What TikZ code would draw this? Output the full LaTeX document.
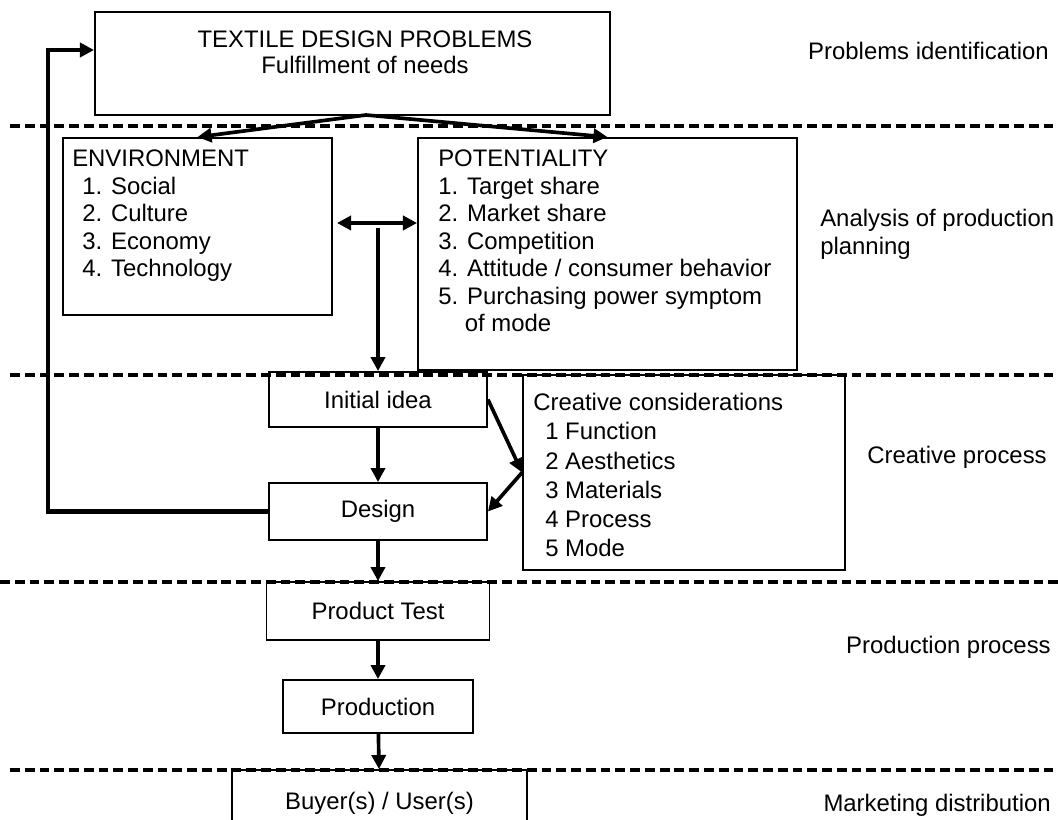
\documentclass[tikz,border=0pt]{standalone}
\usepackage{fontspec}
\setmainfont{Liberation Sans}
\usetikzlibrary{arrows.meta}
\begin{document}
\begin{tikzpicture}[x=0.025cm,y=-0.025cm]
        \tikzstyle{every node}=[font=\fontsize{17}{19.5}\selectfont,inner sep=0pt,align=center];
        \tikzstyle{box}=[draw,line width=1.3pt,shape=rectangle];
        \tikzstyle{list}=[anchor=north west,align=left];
        \tikzstyle{stage}=[anchor=base east];
        \tikzstyle{arr}=[line width=2.6pt,-{Triangle[length=10pt,width=10pt]}];
        \tikzstyle{darr}=[line width=2.6pt,{Triangle[length=10pt,width=10pt]}-{Triangle[length=10pt,width=10pt]}];
        \tikzstyle{level}=[line width=2.3pt,dash pattern=on 7pt off 3.5pt];
        \clip (0,0) rectangle (1058,820);
        % stage separators
        \draw[level] (10,126) -- (1058,126)
        (10,375) -- (1058,375)
        (0,582) -- (1058,582)
        (10,770) -- (1058,770);
        % boxes
        \node (prob) [box,minimum width=12.875cm,minimum height=2.575cm] at (352.5,63.5) {};
        \node (probtext) [font=\fontsize{17}{18.5}\selectfont] at (365,52) {TEXTILE DESIGN PROBLEMS\\Fulfillment of needs};
        \node (env) [box,minimum width=6.725cm,minimum height=4.425cm] at (197.5,226.5) {};
        \node (envtext) [list] at (72,150) {ENVIRONMENT\\\hspace*{0.25cm}1. Social\\\hspace*{0.25cm}2. Culture\\\hspace*{0.25cm}3. Economy\\\hspace*{0.25cm}4. Technology};
        \node (pot) [box,minimum width=9.475cm,minimum height=5.8cm] at (607.5,254) {};
        \node (pottext) [list] at (438,150) {POTENTIALITY\\1. Target share\\2. Market share\\3. Competition\\4. Attitude / consumer behavior\\5. Purchasing power symptom\\\phantom{5.}\ of mode};
        \node (init) [box,minimum width=5.45cm,minimum height=1.375cm] at (378,399.5) {Initial idea};
        \node (design) [box,minimum width=5.45cm,minimum height=1.425cm] at (378,511.5) {Design};
        \node (creative) [box,minimum width=8.05cm,minimum height=4.875cm] at (684,472.5) {};
        \node (creativetext) [list,font=\fontsize{17}{20.8}\selectfont] at (533,393) {Creative considerations\\\hspace*{0.3cm}1 Function\\\hspace*{0.3cm}2 Aesthetics\\\hspace*{0.3cm}3 Materials\\\hspace*{0.3cm}4 Process\\\hspace*{0.3cm}5 Mode};
        \node (test) [box,minimum width=5.575cm,minimum height=1.45cm] at (378,611) {Product Test};
        \node (production) [box,minimum width=4.75cm,minimum height=1.325cm] at (378,706.5) {Production};
        \node (buyer) [box,minimum width=7.375cm,minimum height=1.65cm] at (379.5,803) {Buyer(s) / User(s)};
        % stages
        \node (s1) [stage] at (1049,60) {Problems identification};
        \node (s2) [anchor=north west,align=left] at (820,209) {Analysis of production\\planning};
        \node (s3) [stage] at (1047,463) {Creative process};
        \node (s4) [stage] at (1051,653) {Production process};
        \node (s5) [stage] at (1051,811) {Marketing distribution};
        % connectors
        \coordinate (split) at (366,115);
        \coordinate (hub) at (378,228);
        \coordinate (left) at (337,223);
        \coordinate (turn) at (48,50);
        \draw[arr] (split) -- (env.north);
        \draw[arr] (split) -- (pot.north);
        \draw[darr] (left) -- (pot.west |- left);
        \draw[arr] (hub) -- (init.north);
        \draw[arr] (init) -- (design);
        \draw[arr] (init.east) -- (creative.west);
        \draw[arr] (creative.west) -- (design.east);
        \draw[arr] (design) -- (test);
        \draw[arr] (test) -- (production);
        \draw[arr] (production) -- (buyer);
        \draw[arr,line width=3pt] (design.west) -| (turn) -- (prob.west |- turn);
    \end{tikzpicture}
\end{document}
